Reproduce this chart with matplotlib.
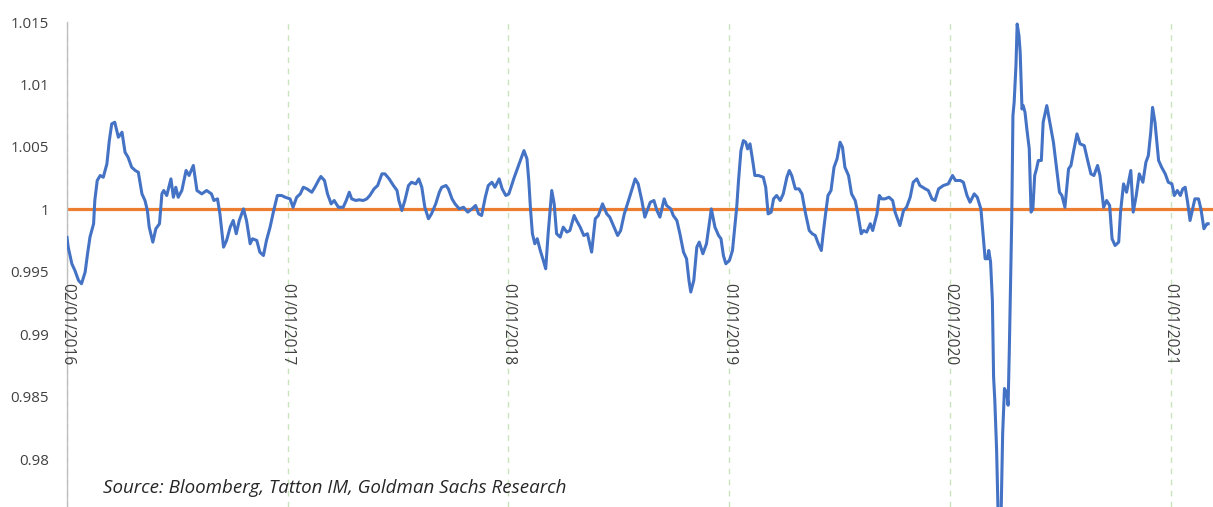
import pandas as pd
import matplotlib
matplotlib.use("Agg")
import matplotlib.pyplot as plt

plt.rcParams['font.family'] = ['Open Sans', 'DejaVu Sans']

# series: days since 02/01/2016 and ratio value
days = [0, 2, 8, 13, 19, 24, 30, 34, 38, 44, 46, 50, 55, 60, 66, 70, 74, 79, 85, 91,
        96, 101, 107, 113, 118, 124, 129, 133, 136, 142, 147, 153, 157, 160, 165, 172, 176, 180, 184, 190,
        197, 202, 209, 215, 223, 231, 239, 243, 249, 253, 259, 264, 270, 275, 280, 285, 292, 297, 303, 307,
        314, 319, 325, 330, 336, 342, 348, 355, 361, 369, 374, 380, 386, 391, 397, 405, 410, 416, 420, 426,
        431, 437, 442, 449, 457, 462, 467, 471, 478, 483, 490, 496, 501, 508, 514, 521, 526, 533, 540, 546,
        549, 554, 559, 565, 570, 577, 582, 587, 592, 598, 603, 610, 616, 620, 627, 631, 637, 642, 649, 656,
        663, 670, 676, 681, 686, 692, 697, 703, 708, 715, 720, 726, 731, 740, 744, 748, 752, 756, 761, 764,
        767, 770, 774, 778, 783, 788, 792, 796, 802, 806, 810, 816, 821, 827, 832, 839, 843, 849, 855, 861,
        868, 874, 879, 886, 893, 898, 905, 911, 916, 922, 929, 934, 940, 945, 951, 956, 960, 965, 971, 976,
        981, 988, 992, 999, 1003, 1009, 1014, 1020, 1025, 1029, 1032, 1037, 1042, 1046, 1052, 1058, 1066, 1072, 1078, 1082,
        1086, 1090, 1096, 1101, 1108, 1111, 1115, 1119, 1123, 1126, 1130, 1134, 1138, 1144, 1152, 1156, 1160, 1165, 1169, 1174,
        1180, 1185, 1191, 1195, 1199, 1205, 1211, 1216, 1222, 1228, 1233, 1238, 1243, 1248, 1251, 1255, 1259, 1264, 1269, 1274,
        1279, 1283, 1287, 1293, 1298, 1304, 1308, 1314, 1318, 1323, 1329, 1333, 1340, 1344, 1348, 1353, 1360, 1366, 1370, 1378,
        1384, 1389, 1395, 1400, 1406, 1411, 1420, 1425, 1431, 1436, 1442, 1450, 1458, 1465, 1470, 1478, 1483, 1489, 1494, 1501,
        1506, 1512, 1516, 1519, 1523, 1525, 1528, 1531, 1533, 1535, 1538, 1541, 1545, 1548, 1551, 1555, 1557, 1559, 1561, 1563,
        1565, 1567, 1570, 1572, 1575, 1577, 1580, 1582, 1585, 1588, 1592, 1595, 1598, 1601, 1604, 1607, 1612, 1615, 1621, 1626,
        1632, 1638, 1642, 1646, 1651, 1657, 1661, 1665, 1671, 1676, 1683, 1688, 1694, 1699, 1705, 1709, 1715, 1720, 1725, 1729,
        1734, 1740, 1743, 1748, 1753, 1760, 1764, 1769, 1774, 1780, 1785, 1789, 1793, 1796, 1800, 1806, 1811, 1817, 1822, 1828,
        1832, 1837, 1842, 1846, 1850, 1854, 1858, 1863, 1866, 1872, 1876, 1881, 1886, 1888]
values = [0.99776, 0.99699, 0.99566, 0.99513, 0.99433, 0.99406, 0.99499, 0.99646, 0.99779, 0.99886,
          1.00072, 1.00232, 1.00272, 1.00258, 1.00365, 1.00551, 1.00685, 1.00698, 1.00578, 1.00618,
          1.00458, 1.00418, 1.00338, 1.00312, 1.00298, 1.00125, 1.00072, 0.99992, 0.99859, 0.99739,
          0.99846, 0.99886, 1.00125, 1.00152, 1.00112, 1.00245, 1.00098, 1.00178, 1.00098, 1.00152,
          1.00312, 1.00272, 1.00352, 1.00152, 1.00125, 1.00152, 1.00125, 1.00072, 1.00085, 0.99965,
          0.99699, 0.99752, 0.99859, 0.99912, 0.99806, 0.99912, 1.00005, 0.99912, 0.99726, 0.99766,
          0.99752, 0.99659, 0.99632, 0.99752, 0.99859, 0.99992, 1.00112, 1.00112, 1.00098, 1.00085,
          1.00018, 1.00098, 1.00125, 1.00178, 1.00165, 1.00138, 1.00178, 1.00232, 1.00264, 1.00232,
          1.00125, 1.00045, 1.00072, 1.00018, 1.00018, 1.00072, 1.00138, 1.00085, 1.00072, 1.00078,
          1.00072, 1.00085, 1.00112, 1.00165, 1.00192, 1.00285, 1.00285, 1.00245, 1.00192, 1.00152,
          1.00072, 0.99992, 1.00072, 1.00192, 1.00218, 1.00205, 1.00245, 1.00178, 1.00018, 0.99926,
          0.99965, 1.00045, 1.00138, 1.00178, 1.00192, 1.00165, 1.00085, 1.00045, 1.00005, 1.00018,
          0.99979, 1.00005, 1.00032, 0.99965, 0.99952, 1.00098, 1.00192, 1.00218, 1.00178, 1.00245,
          1.00165, 1.00112, 1.00125, 1.00258, 1.00312, 1.00365, 1.00418, 1.00471, 1.00405, 1.00232,
          0.99992, 0.99806, 0.99726, 0.99766, 0.99672, 0.99593, 0.99526, 0.99806, 1.00152, 1.00045,
          0.99806, 0.99779, 0.99859, 0.99819, 0.99832, 0.99952, 0.99912, 0.99859, 0.99792, 0.99806,
          0.99659, 0.99926, 0.99952, 1.00045, 0.99965, 0.99939, 0.99859, 0.99792, 0.99832, 0.99965,
          1.00072, 1.00152, 1.00245, 1.00205, 1.00072, 0.99939, 0.99992, 1.00058, 1.00072, 0.99992,
          0.99939, 1.00085, 1.00032, 1.00005, 0.99952, 0.99912, 0.99806, 0.99659, 0.99606, 0.99433,
          0.99340, 0.99433, 0.99699, 0.99739, 0.99646, 0.99726, 1.00005, 0.99859, 0.99792, 0.99766,
          0.99632, 0.99566, 0.99593, 0.99672, 1.00018, 1.00232, 1.00471, 1.00551, 1.00538, 1.00485,
          1.00525, 1.00405, 1.00272, 1.00272, 1.00258, 1.00178, 0.99965, 0.99979, 1.00085, 1.00112,
          1.00072, 1.00125, 1.00258, 1.00312, 1.00272, 1.00165, 1.00165, 1.00125, 0.99965, 0.99832,
          0.99806, 0.99792, 0.99726, 0.99672, 0.99806, 0.99965, 1.00112, 1.00152, 1.00338, 1.00405,
          1.00538, 1.00498, 1.00338, 1.00272, 1.00125, 1.00072, 0.99979, 0.99806, 0.99832, 0.99819,
          0.99886, 0.99832, 0.99965, 1.00112, 1.00085, 1.00085, 1.00098, 1.00072, 0.99979, 0.99872,
          0.99992, 1.00018, 1.00098, 1.00218, 1.00245, 1.00192, 1.00165, 1.00152, 1.00085, 1.00072,
          1.00165, 1.00192, 1.00205, 1.00272, 1.00232, 1.00232, 1.00218, 1.00112, 1.00058, 1.00125,
          1.00098, 1.00005, 0.99779, 0.99606, 0.99606, 0.99672, 0.99580, 0.99273, 0.98660, 0.98474,
          0.98075, 0.97450, 0.97450, 0.98208, 0.98568, 0.98528, 0.98434, 0.98873, 0.99406, 0.99912,
          1.00751, 1.00857, 1.01151, 1.01484, 1.01390, 1.01257, 1.00804, 1.00831, 1.00777, 1.00645,
          1.00485, 0.99979, 1.00005, 1.00272, 1.00325, 1.00392, 1.00392, 1.00698, 1.00831, 1.00698,
          1.00538, 1.00298, 1.00138, 1.00112, 1.00018, 1.00325, 1.00352, 1.00458, 1.00605, 1.00525,
          1.00511, 1.00405, 1.00285, 1.00272, 1.00352, 1.00272, 1.00018, 1.00072, 1.00032, 0.99766,
          0.99712, 0.99739, 0.99979, 1.00205, 1.00138, 1.00312, 0.99979, 1.00112, 1.00285, 1.00218,
          1.00378, 1.00431, 1.00618, 1.00817, 1.00698, 1.00392, 1.00338, 1.00285, 1.00218, 1.00205,
          1.00112, 1.00152, 1.00112, 1.00165, 1.00178, 1.00058, 0.99912, 1.00018, 1.00085, 1.00085,
          1.00005, 0.99846, 0.99886, 0.99886]

start = pd.Timestamp("2016-01-02")
dates = start + pd.to_timedelta(days, unit="D")

label_dates = ["2016-01-02", "2017-01-01", "2018-01-01", "2019-01-01", "2020-01-02", "2021-01-01"]
label_texts = ["02/01/2016", "01/01/2017", "01/01/2018", "01/01/2019", "02/01/2020", "01/01/2021"]
y_ticks = [0.98, 0.985, 0.99, 0.995, 1.0, 1.005, 1.01, 1.015]
y_labels = ["0.98", "0.985", "0.99", "0.995", "1", "1.005", "1.01", "1.015"]

fig = plt.figure(figsize=(12.13, 5.07), dpi=100)
ax = fig.add_axes([67 / 1213, 0.0, 1 - 67 / 1213, 1 - 22 / 507])

for d in label_dates:
    ax.axvline(pd.Timestamp(d), color="#C9E4BC", lw=1.0, ls=(0, (4, 4)), zorder=1)

ax.axhline(1.0, color="#ED7D31", lw=2.3, zorder=2)
ax.plot(dates, values, color="#4472C4", lw=2.2, zorder=3, solid_joinstyle="round")

for d, t in zip(label_dates, label_texts):
    ax.text(pd.Timestamp(d), 0.9941, t, rotation=-90, ha="center", va="top",
            fontsize=11.2, color="#404040", zorder=4)

ax.set_xlim(start, start + pd.Timedelta(days=1896))
ax.set_ylim(0.9762, 1.015)
ax.set_yticks(y_ticks)
ax.set_yticklabels(y_labels)
ax.tick_params(axis="y", length=0, pad=13, labelsize=10.8, labelcolor="#404040")
ax.set_xticks([])

for s in ["top", "right", "bottom"]:
    ax.spines[s].set_visible(False)
ax.spines["left"].set_color("#BFBFBF")
ax.spines["left"].set_linewidth(1.0)

fig.text(103 / 1213, 1 - 488 / 507, "Source: Bloomberg, Tatton IM, Goldman Sachs Research",
         fontsize=13.5, style="italic", va="center", ha="left", color="#262626")

fig.savefig("out.png", dpi=100)
